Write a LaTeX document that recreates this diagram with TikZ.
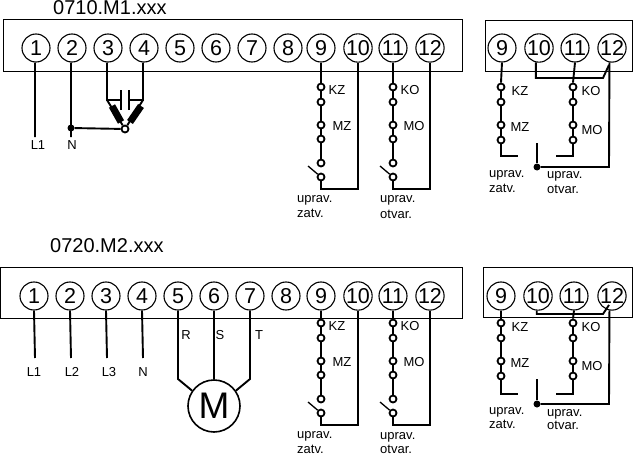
\documentclass[tikz,border=0pt]{standalone}
\usepackage{fontspec}
\setmainfont{Liberation Sans}
\tikzset{
    term/.style={draw, circle, line width=1.1pt, minimum size=28pt, inner sep=0pt, font=\fontsize{21.5}{22}\selectfont},
    cont/.style={draw, circle, line width=1.8pt, minimum size=7pt, inner sep=0pt},
    wire/.style={line width=1.9pt},
    panel/.style={draw, line width=1.1pt, anchor=north west, inner sep=0pt},
    lab/.style={inner sep=0pt, text height=9pt, text depth=0pt, font=\fontsize{13}{13}\selectfont},
    title/.style={inner sep=0pt, anchor=west, font=\fontsize{20}{20}\selectfont}
}
\begin{document}
\begin{tikzpicture}[x=1pt, y=-1pt]
    \useasboundingbox (0,0) rectangle (633,455);
    \node[title] (tita) at (53,8) {0710.M1.xxx};
    \node[title] (titb) at (50,246) {0720.M2.xxx};
    \node[panel, minimum width=459pt, minimum height=52pt] (pa) at (3,19) {};
    \node[panel, minimum width=147pt, minimum height=51pt] (qa) at (485,20) {};
    \node[panel, minimum width=462pt, minimum height=51pt] (pb) at (0,267) {};
    \node[panel, minimum width=149pt, minimum height=50pt] (qb) at (483,267) {};
    % terminals
    \foreach \i/\x in {1/36,2/72,3/108,4/144,5/180,6/216,7/252,8/288,9/321,10/358,11/393,12/430}
        \node[term] (a\i) at (\x,48) {\i};
    \foreach \i/\x in {1/34,2/70,3/106,4/142,5/178,6/214,7/250,8/286,9/321,10/358,11/393,12/430}
        \node[term] (b\i) at (\x,296) {\i};
    \foreach \i/\x in {9/502,10/539,11/575,12/612}
        \node[term] (ra\i) at (\x,48) {\i};
    \foreach \i/\x in {9/501,10/538,11/574,12/612}
        \node[term] (rb\i) at (\x,296) {\i};
    % contact chains
    \foreach \p/\dy in {a/0,b/236} {
        \foreach \k/\y in {1/87,2/102,3/125,4/139,5/163,6/177} {
            \node[cont] (\p z\k) at (321,\y+\dy) {};
            \node[cont] (\p o\k) at (393,\y+\dy) {};
        }
        \coordinate (\p zs) at (308,166+\dy);
        \coordinate (\p os) at (380,166+\dy);
        \coordinate (\p ze) at (321,189+\dy);
        \coordinate (\p oe) at (393,189+\dy);
        \draw[wire] (\p9.south) -- (\p z1.north);
        \draw[wire] (\p11.south) -- (\p o1.north);
        \foreach \u/\v in {1/2,2/3,3/4,4/5} {
            \draw[wire] (\p z\u) -- (\p z\v);
            \draw[wire] (\p o\u) -- (\p o\v);
        }
        \draw[wire, line width=1.3pt] (\p zs) -- (\p z6);
        \draw[wire, line width=1.3pt] (\p os) -- (\p o6);
        \draw[wire] (\p z6) -- (\p ze) -- (\p ze -| \p10.south) -- (\p10.south);
        \draw[wire] (\p o6) -- (\p oe) -- (\p oe -| \p12.south) -- (\p12.south);
        \node[lab] (\p kz) at (337,87+\dy+3) {KZ};
        \node[lab] (\p mz) at (342,125+\dy+1) {MZ};
        \node[lab] (\p ko) at (410,87+\dy+3) {KO};
        \node[lab] (\p mo) at (414,125+\dy+1) {MO};
    }
    \foreach \p/\dy/\e in {ra/0/156,rb/236/158} {
        \foreach \k/\y in {1/87,2/102,3/125,4/140} {
            \node[cont] (\p z\k) at (501,\y+\dy) {};
            \node[cont] (\p o\k) at (573,\y+\dy) {};
        }
        \coordinate (\p ze) at (501,\e+\dy);
        \coordinate (\p zf) at (518,\e+\dy);
        \coordinate (\p oe) at (573,\e+\dy);
        \coordinate (\p of) at (556,\e+\dy);
        \draw[wire] (\p9.south) -- (\p z1.north);
        \draw[wire] (\p11.south) -- (\p o1.north);
        \foreach \u/\v in {1/2,2/3,3/4} {
            \draw[wire] (\p z\u) -- (\p z\v);
            \draw[wire] (\p o\u) -- (\p o\v);
        }
        \draw[wire] (\p z4) -- (\p ze) -- (\p zf);
        \draw[wire] (\p o4) -- (\p oe) -- (\p of);
    }
    % top left: capacitor and windings
    \node[lab] (l1a) at (38,145) {L1};
    \node[lab] (na) at (72,145) {N};
    \coordinate (l1e) at (35,137);
    \coordinate (ne) at (71,137);
    \node[circle, fill, minimum size=7pt, inner sep=0pt] (dota) at (71,128) {};
    \node[cont] (star) at (125,129) {};
    \coordinate (c3) at (107,100);
    \coordinate (c4) at (143,100);
    \coordinate (cl) at (121,100);
    \coordinate (cr) at (129,100);
    \draw[wire] (a1.-94) -- (l1e);
    \draw[wire] (a2.-94) -- (ne);
    \draw[wire] (dota) -- (star);
    \draw[wire] (a3.-94) -- (c3) -- (cl);
    \draw[wire] (a4.-94) -- (c4) -- (cr);
    \draw[wire] ([yshift=-10pt]cl) -- ([yshift=10pt]cl);
    \draw[wire] ([yshift=-10pt]cr) -- ([yshift=10pt]cr);
    \draw[wire] (c3) -- (star);
    \draw[wire] (c4) -- (star);
    \draw[line width=7pt] (112,106) -- (121,122);
    \draw[line width=7pt] (141,106) -- (130,122);
    % bottom left: motor
    \node[draw, circle, line width=1.6pt, minimum size=52pt, inner sep=0pt, font=\fontsize{37}{37}\selectfont] (mot) at (214,406) {M};
    \foreach \n/\t/\x in {l1b/L1/34,l2b/L2/72,l3b/L3/109,nb/N/143}
        \node[lab] (\n) at (\x,372) {\t};
    \foreach \i/\x in {1/35,2/71,3/107,4/143} {
        \coordinate (e\i) at (\x,358);
        \draw[wire] (b\i.south) -- (e\i);
    }
    \coordinate (k5) at (178,379);
    \coordinate (k7) at (250,379);
    \draw[wire] (b5.south) -- (k5) -- (mot.145);
    \draw[wire] (b6.south) -- (mot.north);
    \draw[wire] (b7.south) -- (k7) -- (mot.35);
    \node[lab] (rl) at (186,335) {R};
    \node[lab] (sl) at (220,335) {S};
    \node[lab] (tl) at (259,335) {T};
    % upper right bridge
    \coordinate (ka) at (603,78);
    \coordinate (kb) at (609,65);
    \coordinate (kc) at (609,167);
    \coordinate (kd) at (537,143);
    \node[circle, fill, minimum size=7pt, inner sep=0pt] (dotc) at (537,167) {};
    \draw[wire] (ra10.-102) |- (ka) -- (kb);
    \draw[wire] (ra12.-100) -- (kc) -- (dotc);
    \draw[wire] (dotc) -- (kd);
    % lower right bridge
    \coordinate (la) at (603,314);
    \coordinate (lb) at (609,305);
    \coordinate (lc) at (609,404);
    \coordinate (ld) at (537,379);
    \node[circle, fill, minimum size=7pt, inner sep=0pt] (dotd) at (537,404) {};
    \draw[wire] (rb10.-95) |- (la) -- (lb);
    \draw[wire] (rb12.-100) -- (lc) -- (dotd);
    \draw[wire] (dotd) -- (ld);
    % labels
    \foreach \n/\t/\x/\y in {qakz/KZ/520/91, qako/KO/591/91, qamz/MZ/520/127, qamo/MO/592/130,
                             qbkz/KZ/520/327, qbko/KO/591/327, qbmz/MZ/520/363, qbmo/MO/592/366}
        \node[lab] (\n) at (\x,\y) {\t};
    \foreach \n/\t/\x/\y in {u1/uprav./297/198, u2/zatv./297/213, u3/uprav./380/198, u4/otvar./380/214,
                             u5/uprav./297/434, u6/zatv./297/449, u7/uprav./380/435, u8/otvar./380/449,
                             u9/uprav./489/173, u10/zatv./489/188, u11/uprav./547/174, u12/otvar./547/189,
                             u13/uprav./489/410, u14/zatv./489/424, u15/uprav./547/412, u16/otvar./547/425}
        \node[lab, anchor=west] (\n) at (\x,\y) {\t};
\end{tikzpicture}
\end{document}
